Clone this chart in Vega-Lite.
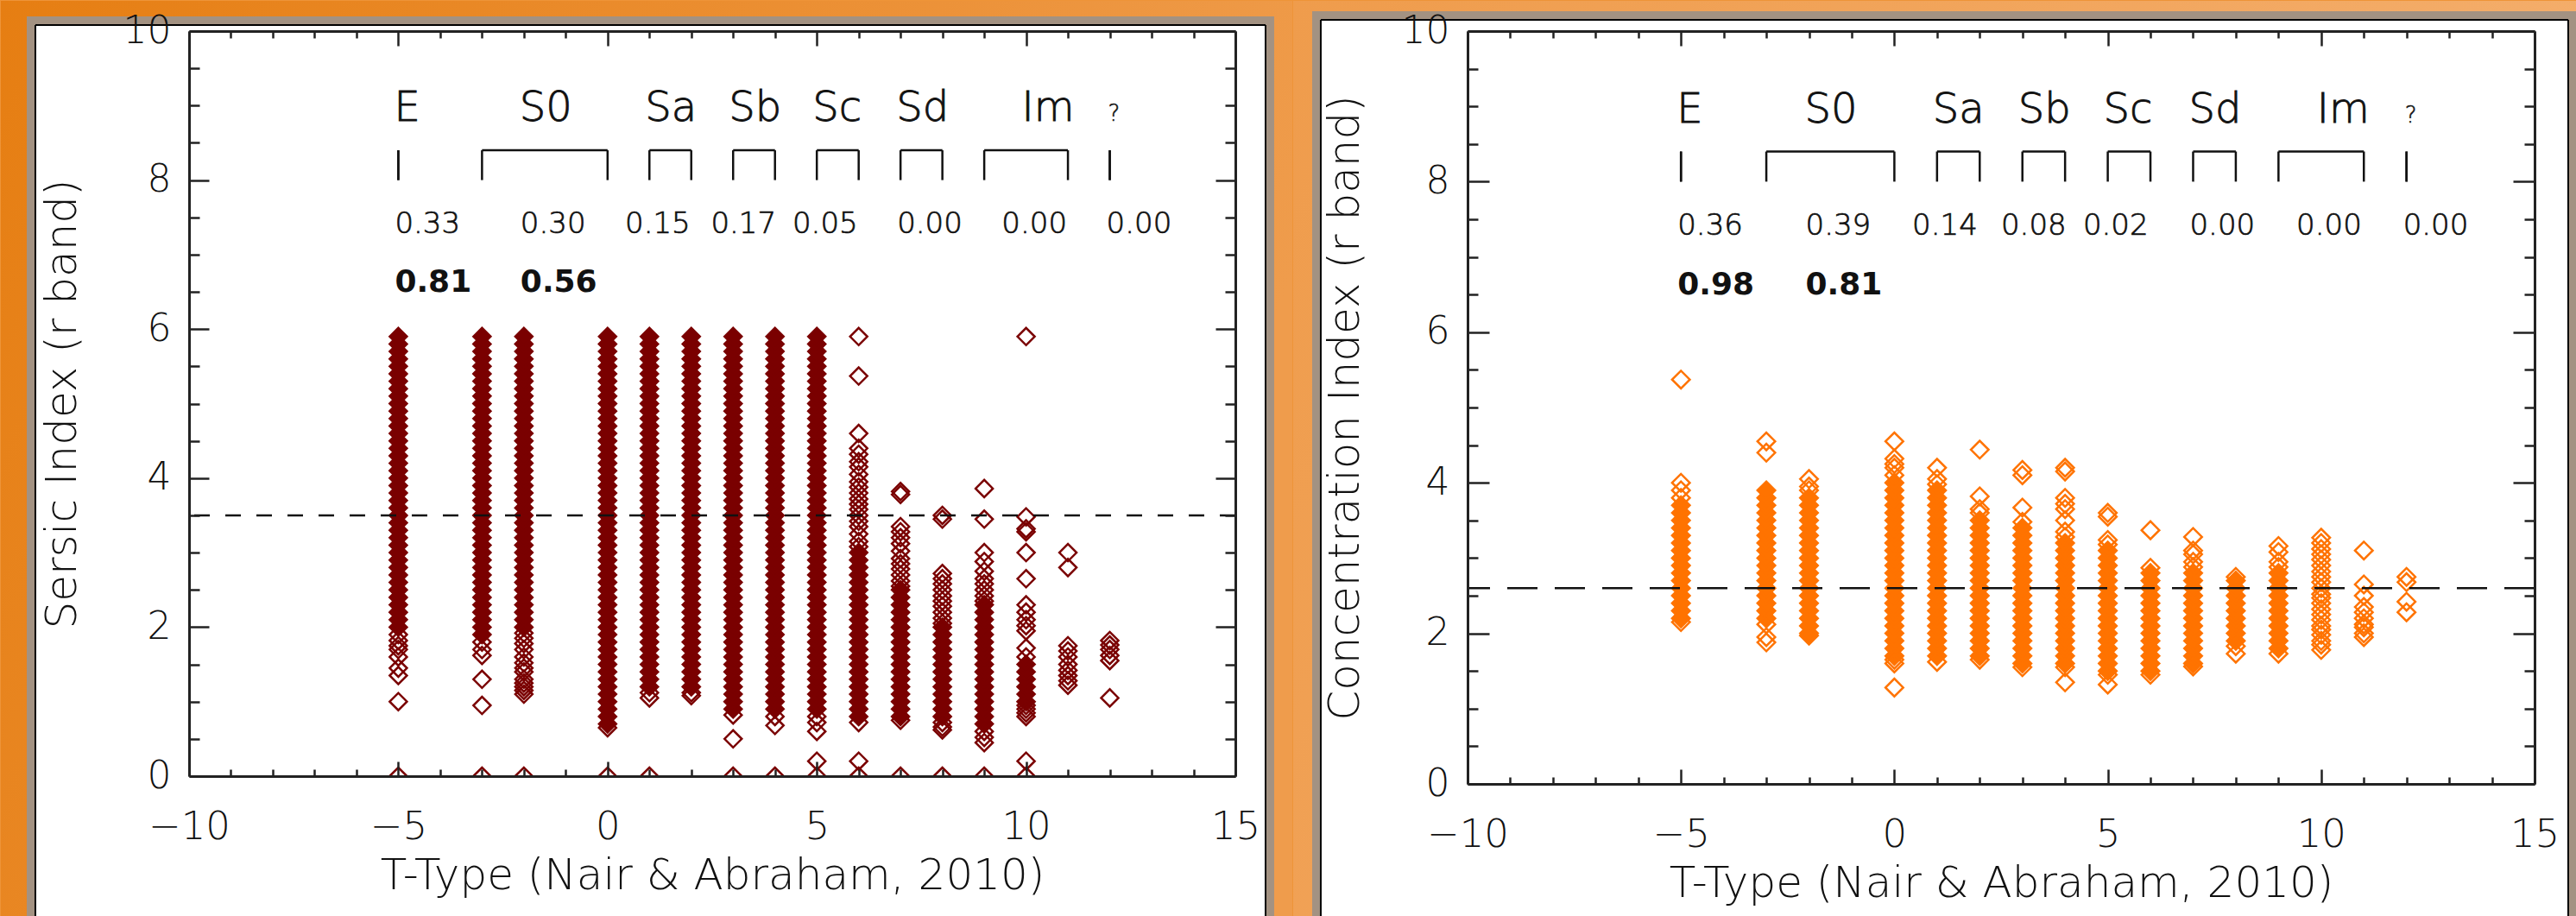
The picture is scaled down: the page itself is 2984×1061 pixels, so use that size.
{
"$schema": "https://vega.github.io/schema/vega-lite/v6.json",
"background": "#EE9438",
"padding": {"left": 0, "top": 0, "right": 0, "bottom": 0},
"autosize": {"type": "pad"},
"columns": 2,
"spacing": 0,
"align": "none",
"bounds": "full",
"config": {
  "view": {"stroke": null},
  "text": {"font": "DejaVu Sans", "color": "#111111", "fontWeight": 300, "stroke": "#111111", "strokeWidth": 0.9},
  "axis": {"domainColor": "#222222", "domainWidth": 3, "tickColor": "#222222", "tickWidth": 2.5, "labelColor": "#111111", "labelFont": "DejaVu Sans", "labelFontWeight": 300, "titleFont": "DejaVu Sans", "titleColor": "#111111", "titleFontWeight": 300, "grid": false, "labelOverlap": false, "labelFlush": false, "labelBound": false}
},
"datasets": {
"sc": [
{"t":-5,"v":2},{"t":-5,"v":2.1},{"t":-5,"v":2.2},{"t":-5,"v":2.3},{"t":-5,"v":2.4},{"t":-5,"v":2.5},{"t":-5,"v":2.6},{"t":-5,"v":2.7},{"t":-5,"v":2.8},{"t":-5,"v":2.9},{"t":-5,"v":3},{"t":-5,"v":3.1},{"t":-5,"v":3.2},{"t":-5,"v":3.3},{"t":-5,"v":3.4},{"t":-5,"v":3.5},{"t":-5,"v":3.6},{"t":-5,"v":3.7},{"t":-5,"v":3.8},{"t":-5,"v":3.9},{"t":-5,"v":4},{"t":-5,"v":4.1},{"t":-5,"v":4.2},{"t":-5,"v":4.3},{"t":-5,"v":4.4},{"t":-5,"v":4.5},{"t":-5,"v":4.6},{"t":-5,"v":4.7},{"t":-5,"v":4.8},{"t":-5,"v":4.9},{"t":-5,"v":5},{"t":-5,"v":5.1},{"t":-5,"v":5.2},{"t":-5,"v":5.3},{"t":-5,"v":5.4},{"t":-5,"v":5.5},{"t":-5,"v":5.6},{"t":-5,"v":5.7},{"t":-5,"v":5.8},{"t":-5,"v":5.9},
{"t":-3,"v":1.9},{"t":-3,"v":2},{"t":-3,"v":2.1},{"t":-3,"v":2.2},{"t":-3,"v":2.3},{"t":-3,"v":2.4},{"t":-3,"v":2.5},{"t":-3,"v":2.6},{"t":-3,"v":2.7},{"t":-3,"v":2.8},{"t":-3,"v":2.9},{"t":-3,"v":3},{"t":-3,"v":3.1},{"t":-3,"v":3.2},{"t":-3,"v":3.3},{"t":-3,"v":3.4},{"t":-3,"v":3.5},{"t":-3,"v":3.6},{"t":-3,"v":3.7},{"t":-3,"v":3.8},{"t":-3,"v":3.9},{"t":-3,"v":4},{"t":-3,"v":4.1},{"t":-3,"v":4.2},{"t":-3,"v":4.3},{"t":-3,"v":4.4},{"t":-3,"v":4.5},{"t":-3,"v":4.6},{"t":-3,"v":4.7},{"t":-3,"v":4.8},{"t":-3,"v":4.9},{"t":-3,"v":5},{"t":-3,"v":5.1},{"t":-3,"v":5.2},{"t":-3,"v":5.3},{"t":-3,"v":5.4},{"t":-3,"v":5.5},{"t":-3,"v":5.6},{"t":-3,"v":5.7},{"t":-3,"v":5.8},{"t":-3,"v":5.9},
{"t":-2,"v":2},{"t":-2,"v":2.1},{"t":-2,"v":2.2},{"t":-2,"v":2.3},{"t":-2,"v":2.4},{"t":-2,"v":2.5},{"t":-2,"v":2.6},{"t":-2,"v":2.7},{"t":-2,"v":2.8},{"t":-2,"v":2.9},{"t":-2,"v":3},{"t":-2,"v":3.1},{"t":-2,"v":3.2},{"t":-2,"v":3.3},{"t":-2,"v":3.4},{"t":-2,"v":3.5},{"t":-2,"v":3.6},{"t":-2,"v":3.7},{"t":-2,"v":3.8},{"t":-2,"v":3.9},{"t":-2,"v":4},{"t":-2,"v":4.1},{"t":-2,"v":4.2},{"t":-2,"v":4.3},{"t":-2,"v":4.4},{"t":-2,"v":4.5},{"t":-2,"v":4.6},{"t":-2,"v":4.7},{"t":-2,"v":4.8},{"t":-2,"v":4.9},{"t":-2,"v":5},{"t":-2,"v":5.1},{"t":-2,"v":5.2},{"t":-2,"v":5.3},{"t":-2,"v":5.4},{"t":-2,"v":5.5},{"t":-2,"v":5.6},{"t":-2,"v":5.7},{"t":-2,"v":5.8},{"t":-2,"v":5.9},
{"t":0,"v":0.7},{"t":0,"v":0.8},{"t":0,"v":0.9},{"t":0,"v":1},{"t":0,"v":1.1},{"t":0,"v":1.2},{"t":0,"v":1.3},{"t":0,"v":1.4},{"t":0,"v":1.5},{"t":0,"v":1.6},{"t":0,"v":1.7},{"t":0,"v":1.8},{"t":0,"v":1.9},{"t":0,"v":2},{"t":0,"v":2.1},{"t":0,"v":2.2},{"t":0,"v":2.3},{"t":0,"v":2.4},{"t":0,"v":2.5},{"t":0,"v":2.6},{"t":0,"v":2.7},{"t":0,"v":2.8},{"t":0,"v":2.9},{"t":0,"v":3},{"t":0,"v":3.1},{"t":0,"v":3.2},{"t":0,"v":3.3},{"t":0,"v":3.4},{"t":0,"v":3.5},{"t":0,"v":3.6},{"t":0,"v":3.7},{"t":0,"v":3.8},{"t":0,"v":3.9},{"t":0,"v":4},{"t":0,"v":4.1},{"t":0,"v":4.2},{"t":0,"v":4.3},{"t":0,"v":4.4},{"t":0,"v":4.5},{"t":0,"v":4.6},{"t":0,"v":4.7},{"t":0,"v":4.8},{"t":0,"v":4.9},{"t":0,"v":5},{"t":0,"v":5.1},{"t":0,"v":5.2},{"t":0,"v":5.3},{"t":0,"v":5.4},{"t":0,"v":5.5},{"t":0,"v":5.6},{"t":0,"v":5.7},{"t":0,"v":5.8},{"t":0,"v":5.9},
{"t":1,"v":1.2},{"t":1,"v":1.3},{"t":1,"v":1.4},{"t":1,"v":1.5},{"t":1,"v":1.6},{"t":1,"v":1.7},{"t":1,"v":1.8},{"t":1,"v":1.9},{"t":1,"v":2},{"t":1,"v":2.1},{"t":1,"v":2.2},{"t":1,"v":2.3},{"t":1,"v":2.4},{"t":1,"v":2.5},{"t":1,"v":2.6},{"t":1,"v":2.7},{"t":1,"v":2.8},{"t":1,"v":2.9},{"t":1,"v":3},{"t":1,"v":3.1},{"t":1,"v":3.2},{"t":1,"v":3.3},{"t":1,"v":3.4},{"t":1,"v":3.5},{"t":1,"v":3.6},{"t":1,"v":3.7},{"t":1,"v":3.8},{"t":1,"v":3.9},{"t":1,"v":4},{"t":1,"v":4.1},{"t":1,"v":4.2},{"t":1,"v":4.3},{"t":1,"v":4.4},{"t":1,"v":4.5},{"t":1,"v":4.6},{"t":1,"v":4.7},{"t":1,"v":4.8},{"t":1,"v":4.9},{"t":1,"v":5},{"t":1,"v":5.1},{"t":1,"v":5.2},{"t":1,"v":5.3},{"t":1,"v":5.4},{"t":1,"v":5.5},{"t":1,"v":5.6},{"t":1,"v":5.7},{"t":1,"v":5.8},{"t":1,"v":5.9},
{"t":2,"v":1.2},{"t":2,"v":1.3},{"t":2,"v":1.4},{"t":2,"v":1.5},{"t":2,"v":1.6},{"t":2,"v":1.7},{"t":2,"v":1.8},{"t":2,"v":1.9},{"t":2,"v":2},{"t":2,"v":2.1},{"t":2,"v":2.2},{"t":2,"v":2.3},{"t":2,"v":2.4},{"t":2,"v":2.5},{"t":2,"v":2.6},{"t":2,"v":2.7},{"t":2,"v":2.8},{"t":2,"v":2.9},{"t":2,"v":3},{"t":2,"v":3.1},{"t":2,"v":3.2},{"t":2,"v":3.3},{"t":2,"v":3.4},{"t":2,"v":3.5},{"t":2,"v":3.6},{"t":2,"v":3.7},{"t":2,"v":3.8},{"t":2,"v":3.9},{"t":2,"v":4},{"t":2,"v":4.1},{"t":2,"v":4.2},{"t":2,"v":4.3},{"t":2,"v":4.4},{"t":2,"v":4.5},{"t":2,"v":4.6},{"t":2,"v":4.7},{"t":2,"v":4.8},{"t":2,"v":4.9},{"t":2,"v":5},{"t":2,"v":5.1},{"t":2,"v":5.2},{"t":2,"v":5.3},{"t":2,"v":5.4},{"t":2,"v":5.5},{"t":2,"v":5.6},{"t":2,"v":5.7},{"t":2,"v":5.8},{"t":2,"v":5.9},
{"t":3,"v":0.9},{"t":3,"v":1},{"t":3,"v":1.1},{"t":3,"v":1.2},{"t":3,"v":1.3},{"t":3,"v":1.4},{"t":3,"v":1.5},{"t":3,"v":1.6},{"t":3,"v":1.7},{"t":3,"v":1.8},{"t":3,"v":1.9},{"t":3,"v":2},{"t":3,"v":2.1},{"t":3,"v":2.2},{"t":3,"v":2.3},{"t":3,"v":2.4},{"t":3,"v":2.5},{"t":3,"v":2.6},{"t":3,"v":2.7},{"t":3,"v":2.8},{"t":3,"v":2.9},{"t":3,"v":3},{"t":3,"v":3.1},{"t":3,"v":3.2},{"t":3,"v":3.3},{"t":3,"v":3.4},{"t":3,"v":3.5},{"t":3,"v":3.6},{"t":3,"v":3.7},{"t":3,"v":3.8},{"t":3,"v":3.9},{"t":3,"v":4},{"t":3,"v":4.1},{"t":3,"v":4.2},{"t":3,"v":4.3},{"t":3,"v":4.4},{"t":3,"v":4.5},{"t":3,"v":4.6},{"t":3,"v":4.7},{"t":3,"v":4.8},{"t":3,"v":4.9},{"t":3,"v":5},{"t":3,"v":5.1},{"t":3,"v":5.2},{"t":3,"v":5.3},{"t":3,"v":5.4},{"t":3,"v":5.5},{"t":3,"v":5.6},{"t":3,"v":5.7},{"t":3,"v":5.8},{"t":3,"v":5.9},
{"t":4,"v":0.9},{"t":4,"v":1},{"t":4,"v":1.1},{"t":4,"v":1.2},{"t":4,"v":1.3},{"t":4,"v":1.4},{"t":4,"v":1.5},{"t":4,"v":1.6},{"t":4,"v":1.7},{"t":4,"v":1.8},{"t":4,"v":1.9},{"t":4,"v":2},{"t":4,"v":2.1},{"t":4,"v":2.2},{"t":4,"v":2.3},{"t":4,"v":2.4},{"t":4,"v":2.5},{"t":4,"v":2.6},{"t":4,"v":2.7},{"t":4,"v":2.8},{"t":4,"v":2.9},{"t":4,"v":3},{"t":4,"v":3.1},{"t":4,"v":3.2},{"t":4,"v":3.3},{"t":4,"v":3.4},{"t":4,"v":3.5},{"t":4,"v":3.6},{"t":4,"v":3.7},{"t":4,"v":3.8},{"t":4,"v":3.9},{"t":4,"v":4},{"t":4,"v":4.1},{"t":4,"v":4.2},{"t":4,"v":4.3},{"t":4,"v":4.4},{"t":4,"v":4.5},{"t":4,"v":4.6},{"t":4,"v":4.7},{"t":4,"v":4.8},{"t":4,"v":4.9},{"t":4,"v":5},{"t":4,"v":5.1},{"t":4,"v":5.2},{"t":4,"v":5.3},{"t":4,"v":5.4},{"t":4,"v":5.5},{"t":4,"v":5.6},{"t":4,"v":5.7},{"t":4,"v":5.8},{"t":4,"v":5.9},
{"t":5,"v":0.9},{"t":5,"v":1},{"t":5,"v":1.1},{"t":5,"v":1.2},{"t":5,"v":1.3},{"t":5,"v":1.4},{"t":5,"v":1.5},{"t":5,"v":1.6},{"t":5,"v":1.7},{"t":5,"v":1.8},{"t":5,"v":1.9},{"t":5,"v":2},{"t":5,"v":2.1},{"t":5,"v":2.2},{"t":5,"v":2.3},{"t":5,"v":2.4},{"t":5,"v":2.5},{"t":5,"v":2.6},{"t":5,"v":2.7},{"t":5,"v":2.8},{"t":5,"v":2.9},{"t":5,"v":3},{"t":5,"v":3.1},{"t":5,"v":3.2},{"t":5,"v":3.3},{"t":5,"v":3.4},{"t":5,"v":3.5},{"t":5,"v":3.6},{"t":5,"v":3.7},{"t":5,"v":3.8},{"t":5,"v":3.9},{"t":5,"v":4},{"t":5,"v":4.1},{"t":5,"v":4.2},{"t":5,"v":4.3},{"t":5,"v":4.4},{"t":5,"v":4.5},{"t":5,"v":4.6},{"t":5,"v":4.7},{"t":5,"v":4.8},{"t":5,"v":4.9},{"t":5,"v":5},{"t":5,"v":5.1},{"t":5,"v":5.2},{"t":5,"v":5.3},{"t":5,"v":5.4},{"t":5,"v":5.5},{"t":5,"v":5.6},{"t":5,"v":5.7},{"t":5,"v":5.8},{"t":5,"v":5.9},
{"t":6,"v":0.8},{"t":6,"v":0.9},{"t":6,"v":1},{"t":6,"v":1.1},{"t":6,"v":1.2},{"t":6,"v":1.3},{"t":6,"v":1.4},{"t":6,"v":1.5},{"t":6,"v":1.6},{"t":6,"v":1.7},{"t":6,"v":1.8},{"t":6,"v":1.9},{"t":6,"v":2},{"t":6,"v":2.1},{"t":6,"v":2.2},{"t":6,"v":2.3},{"t":6,"v":2.4},{"t":6,"v":2.5},{"t":6,"v":2.6},{"t":6,"v":2.7},{"t":6,"v":2.8},{"t":6,"v":2.9},{"t":6,"v":3},
{"t":7,"v":0.8},{"t":7,"v":0.9},{"t":7,"v":1},{"t":7,"v":1.1},{"t":7,"v":1.2},{"t":7,"v":1.3},{"t":7,"v":1.4},{"t":7,"v":1.5},{"t":7,"v":1.6},{"t":7,"v":1.7},{"t":7,"v":1.8},{"t":7,"v":1.9},{"t":7,"v":2},{"t":7,"v":2.1},{"t":7,"v":2.2},{"t":7,"v":2.3},{"t":7,"v":2.4},{"t":7,"v":2.5},
{"t":8,"v":0.8},{"t":8,"v":0.9},{"t":8,"v":1},{"t":8,"v":1.1},{"t":8,"v":1.2},{"t":8,"v":1.3},{"t":8,"v":1.4},{"t":8,"v":1.5},{"t":8,"v":1.6},{"t":8,"v":1.7},{"t":8,"v":1.8},{"t":8,"v":1.9},{"t":8,"v":2},
{"t":9,"v":0.7},{"t":9,"v":0.8},{"t":9,"v":0.9},{"t":9,"v":1},{"t":9,"v":1.1},{"t":9,"v":1.2},{"t":9,"v":1.3},{"t":9,"v":1.4},{"t":9,"v":1.5},{"t":9,"v":1.6},{"t":9,"v":1.7},{"t":9,"v":1.8},{"t":9,"v":1.9},{"t":9,"v":2},{"t":9,"v":2.1},{"t":9,"v":2.2},{"t":9,"v":2.3},
{"t":10,"v":1},{"t":10,"v":1.1},{"t":10,"v":1.2},{"t":10,"v":1.3},{"t":10,"v":1.4},{"t":10,"v":1.5}
],
"so": [
{"t":-5,"v":1.9},{"t":-5,"v":1.82},{"t":-5,"v":1.75},{"t":-5,"v":1.7},{"t":-5,"v":1.6},{"t":-5,"v":1.45},{"t":-5,"v":1.35},{"t":-5,"v":1},{"t":-5,"v":0},
{"t":-3,"v":1.8},{"t":-3,"v":1.7},{"t":-3,"v":1.62},{"t":-3,"v":1.3},{"t":-3,"v":0.95},{"t":-3,"v":0},
{"t":-2,"v":1.92},{"t":-2,"v":1.85},{"t":-2,"v":1.78},{"t":-2,"v":1.7},{"t":-2,"v":1.6},{"t":-2,"v":1.52},{"t":-2,"v":1.45},{"t":-2,"v":1.4},{"t":-2,"v":1.3},{"t":-2,"v":1.25},{"t":-2,"v":1.2},{"t":-2,"v":1.15},{"t":-2,"v":1.1},{"t":-2,"v":0},
{"t":0,"v":0.65},{"t":0,"v":0},
{"t":1,"v":1.12},{"t":1,"v":1.05},{"t":1,"v":0},
{"t":2,"v":1.12},{"t":2,"v":1.08},
{"t":3,"v":0.82},{"t":3,"v":0.5},{"t":3,"v":0},
{"t":4,"v":0.8},{"t":4,"v":0.68},{"t":4,"v":0},
{"t":5,"v":0.8},{"t":5,"v":0.72},{"t":5,"v":0.6},{"t":5,"v":0.2},{"t":5,"v":0},
{"t":6,"v":5.9},{"t":6,"v":5.37},{"t":6,"v":4.6},{"t":6,"v":4.4},{"t":6,"v":4.32},{"t":6,"v":4.22},{"t":6,"v":4.15},{"t":6,"v":4.05},{"t":6,"v":3.95},{"t":6,"v":3.88},{"t":6,"v":3.8},{"t":6,"v":3.72},{"t":6,"v":3.65},{"t":6,"v":3.58},{"t":6,"v":3.5},{"t":6,"v":3.42},{"t":6,"v":3.35},{"t":6,"v":3.25},{"t":6,"v":3.15},{"t":6,"v":3.08},{"t":6,"v":0.72},{"t":6,"v":0.2},{"t":6,"v":0},
{"t":7,"v":3.82},{"t":7,"v":3.78},{"t":7,"v":3.35},{"t":7,"v":3.28},{"t":7,"v":3.2},{"t":7,"v":3.12},{"t":7,"v":3.02},{"t":7,"v":2.92},{"t":7,"v":2.85},{"t":7,"v":2.78},{"t":7,"v":2.7},{"t":7,"v":2.62},{"t":7,"v":2.55},{"t":7,"v":0.75},{"t":7,"v":0},
{"t":8,"v":3.5},{"t":8,"v":3.45},{"t":8,"v":2.72},{"t":8,"v":2.65},{"t":8,"v":2.58},{"t":8,"v":2.5},{"t":8,"v":2.42},{"t":8,"v":2.35},{"t":8,"v":2.28},{"t":8,"v":2.2},{"t":8,"v":2.12},{"t":8,"v":2.05},{"t":8,"v":0.72},{"t":8,"v":0.66},{"t":8,"v":0.62},{"t":8,"v":0},
{"t":9,"v":3.86},{"t":9,"v":3.45},{"t":9,"v":3},{"t":9,"v":2.88},{"t":9,"v":2.75},{"t":9,"v":2.65},{"t":9,"v":2.58},{"t":9,"v":2.5},{"t":9,"v":2.42},{"t":9,"v":2.35},{"t":9,"v":0.6},{"t":9,"v":0.52},{"t":9,"v":0.45},{"t":9,"v":0},
{"t":10,"v":5.9},{"t":10,"v":3.48},{"t":10,"v":3.32},{"t":10,"v":3.28},{"t":10,"v":3},{"t":10,"v":2.65},{"t":10,"v":2.3},{"t":10,"v":2.2},{"t":10,"v":2.1},{"t":10,"v":2.02},{"t":10,"v":1.95},{"t":10,"v":1.72},{"t":10,"v":1.6},{"t":10,"v":0.95},{"t":10,"v":0.9},{"t":10,"v":0.85},{"t":10,"v":0.8},{"t":10,"v":0.2},{"t":10,"v":0},
{"t":11,"v":3},{"t":11,"v":2.8},{"t":11,"v":1.75},{"t":11,"v":1.68},{"t":11,"v":1.6},{"t":11,"v":1.5},{"t":11,"v":1.42},{"t":11,"v":1.35},{"t":11,"v":1.28},{"t":11,"v":1.22},
{"t":12,"v":1.82},{"t":12,"v":1.76},{"t":12,"v":1.7},{"t":12,"v":1.62},{"t":12,"v":1.55},{"t":12,"v":1.05}
],
"cc": [
{"t":-5,"v":2.2},{"t":-5,"v":2.3},{"t":-5,"v":2.4},{"t":-5,"v":2.5},{"t":-5,"v":2.6},{"t":-5,"v":2.7},{"t":-5,"v":2.8},{"t":-5,"v":2.9},{"t":-5,"v":3},{"t":-5,"v":3.1},{"t":-5,"v":3.2},{"t":-5,"v":3.3},{"t":-5,"v":3.4},{"t":-5,"v":3.5},{"t":-5,"v":3.6},{"t":-5,"v":3.7},
{"t":-3,"v":2.2},{"t":-3,"v":2.3},{"t":-3,"v":2.4},{"t":-3,"v":2.5},{"t":-3,"v":2.6},{"t":-3,"v":2.7},{"t":-3,"v":2.8},{"t":-3,"v":2.9},{"t":-3,"v":3},{"t":-3,"v":3.1},{"t":-3,"v":3.2},{"t":-3,"v":3.3},{"t":-3,"v":3.4},{"t":-3,"v":3.5},{"t":-3,"v":3.6},{"t":-3,"v":3.7},{"t":-3,"v":3.8},{"t":-3,"v":3.9},
{"t":-2,"v":2},{"t":-2,"v":2.1},{"t":-2,"v":2.2},{"t":-2,"v":2.3},{"t":-2,"v":2.4},{"t":-2,"v":2.5},{"t":-2,"v":2.6},{"t":-2,"v":2.7},{"t":-2,"v":2.8},{"t":-2,"v":2.9},{"t":-2,"v":3},{"t":-2,"v":3.1},{"t":-2,"v":3.2},{"t":-2,"v":3.3},{"t":-2,"v":3.4},{"t":-2,"v":3.5},{"t":-2,"v":3.6},{"t":-2,"v":3.7},{"t":-2,"v":3.8},
{"t":0,"v":1.7},{"t":0,"v":1.8},{"t":0,"v":1.9},{"t":0,"v":2},{"t":0,"v":2.1},{"t":0,"v":2.2},{"t":0,"v":2.3},{"t":0,"v":2.4},{"t":0,"v":2.5},{"t":0,"v":2.6},{"t":0,"v":2.7},{"t":0,"v":2.8},{"t":0,"v":2.9},{"t":0,"v":3},{"t":0,"v":3.1},{"t":0,"v":3.2},{"t":0,"v":3.3},{"t":0,"v":3.4},{"t":0,"v":3.5},{"t":0,"v":3.6},{"t":0,"v":3.7},{"t":0,"v":3.8},{"t":0,"v":3.9},{"t":0,"v":4},
{"t":1,"v":1.7},{"t":1,"v":1.8},{"t":1,"v":1.9},{"t":1,"v":2},{"t":1,"v":2.1},{"t":1,"v":2.2},{"t":1,"v":2.3},{"t":1,"v":2.4},{"t":1,"v":2.5},{"t":1,"v":2.6},{"t":1,"v":2.7},{"t":1,"v":2.8},{"t":1,"v":2.9},{"t":1,"v":3},{"t":1,"v":3.1},{"t":1,"v":3.2},{"t":1,"v":3.3},{"t":1,"v":3.4},{"t":1,"v":3.5},{"t":1,"v":3.6},{"t":1,"v":3.7},{"t":1,"v":3.8},{"t":1,"v":3.9},
{"t":2,"v":1.7},{"t":2,"v":1.8},{"t":2,"v":1.9},{"t":2,"v":2},{"t":2,"v":2.1},{"t":2,"v":2.2},{"t":2,"v":2.3},{"t":2,"v":2.4},{"t":2,"v":2.5},{"t":2,"v":2.6},{"t":2,"v":2.7},{"t":2,"v":2.8},{"t":2,"v":2.9},{"t":2,"v":3},{"t":2,"v":3.1},{"t":2,"v":3.2},{"t":2,"v":3.3},{"t":2,"v":3.4},{"t":2,"v":3.5},
{"t":3,"v":1.6},{"t":3,"v":1.7},{"t":3,"v":1.8},{"t":3,"v":1.9},{"t":3,"v":2},{"t":3,"v":2.1},{"t":3,"v":2.2},{"t":3,"v":2.3},{"t":3,"v":2.4},{"t":3,"v":2.5},{"t":3,"v":2.6},{"t":3,"v":2.7},{"t":3,"v":2.8},{"t":3,"v":2.9},{"t":3,"v":3},{"t":3,"v":3.1},{"t":3,"v":3.2},{"t":3,"v":3.3},{"t":3,"v":3.4},
{"t":4,"v":1.6},{"t":4,"v":1.7},{"t":4,"v":1.8},{"t":4,"v":1.9},{"t":4,"v":2},{"t":4,"v":2.1},{"t":4,"v":2.2},{"t":4,"v":2.3},{"t":4,"v":2.4},{"t":4,"v":2.5},{"t":4,"v":2.6},{"t":4,"v":2.7},{"t":4,"v":2.8},{"t":4,"v":2.9},{"t":4,"v":3},{"t":4,"v":3.1},{"t":4,"v":3.2},
{"t":5,"v":1.5},{"t":5,"v":1.6},{"t":5,"v":1.7},{"t":5,"v":1.8},{"t":5,"v":1.9},{"t":5,"v":2},{"t":5,"v":2.1},{"t":5,"v":2.2},{"t":5,"v":2.3},{"t":5,"v":2.4},{"t":5,"v":2.5},{"t":5,"v":2.6},{"t":5,"v":2.7},{"t":5,"v":2.8},{"t":5,"v":2.9},{"t":5,"v":3},{"t":5,"v":3.1},
{"t":6,"v":1.5},{"t":6,"v":1.6},{"t":6,"v":1.7},{"t":6,"v":1.8},{"t":6,"v":1.9},{"t":6,"v":2},{"t":6,"v":2.1},{"t":6,"v":2.2},{"t":6,"v":2.3},{"t":6,"v":2.4},{"t":6,"v":2.5},{"t":6,"v":2.6},{"t":6,"v":2.7},{"t":6,"v":2.8},
{"t":7,"v":1.6},{"t":7,"v":1.7},{"t":7,"v":1.8},{"t":7,"v":1.9},{"t":7,"v":2},{"t":7,"v":2.1},{"t":7,"v":2.2},{"t":7,"v":2.3},{"t":7,"v":2.4},{"t":7,"v":2.5},{"t":7,"v":2.6},{"t":7,"v":2.7},{"t":7,"v":2.8},
{"t":8,"v":1.9},{"t":8,"v":2},{"t":8,"v":2.1},{"t":8,"v":2.2},{"t":8,"v":2.3},{"t":8,"v":2.4},{"t":8,"v":2.5},{"t":8,"v":2.6},{"t":8,"v":2.7},
{"t":9,"v":1.8},{"t":9,"v":1.9},{"t":9,"v":2},{"t":9,"v":2.1},{"t":9,"v":2.2},{"t":9,"v":2.3},{"t":9,"v":2.4},{"t":9,"v":2.5},{"t":9,"v":2.6},{"t":9,"v":2.7},{"t":9,"v":2.8}
],
"co": [
{"t":-5,"v":2.15},{"t":-5,"v":3.8},{"t":-5,"v":3.9},{"t":-5,"v":4},{"t":-5,"v":5.37},
{"t":-3,"v":2.12},{"t":-3,"v":1.95},{"t":-3,"v":1.88},{"t":-3,"v":4.4},{"t":-3,"v":4.55},
{"t":-2,"v":1.97},{"t":-2,"v":3.9},{"t":-2,"v":3.95},{"t":-2,"v":4.05},
{"t":0,"v":1.65},{"t":0,"v":1.6},{"t":0,"v":1.28},{"t":0,"v":4.1},{"t":0,"v":4.2},{"t":0,"v":4.25},{"t":0,"v":4.32},{"t":0,"v":4.55},
{"t":1,"v":1.62},{"t":1,"v":3.98},{"t":1,"v":4.05},{"t":1,"v":4.2},
{"t":2,"v":1.65},{"t":2,"v":3.6},{"t":2,"v":3.65},{"t":2,"v":3.82},{"t":2,"v":4.44},
{"t":3,"v":1.55},{"t":3,"v":3.48},{"t":3,"v":3.67},{"t":3,"v":4.1},{"t":3,"v":4.17},
{"t":4,"v":1.55},{"t":4,"v":1.35},{"t":4,"v":3.28},{"t":4,"v":3.35},{"t":4,"v":3.5},{"t":4,"v":3.65},{"t":4,"v":3.72},{"t":4,"v":3.8},{"t":4,"v":4.15},{"t":4,"v":4.2},
{"t":5,"v":1.45},{"t":5,"v":1.32},{"t":5,"v":3.18},{"t":5,"v":3.24},{"t":5,"v":3.55},{"t":5,"v":3.6},
{"t":6,"v":1.45},{"t":6,"v":2.87},{"t":6,"v":3.37},
{"t":7,"v":1.56},{"t":7,"v":2.88},{"t":7,"v":2.95},{"t":7,"v":3.05},{"t":7,"v":3.1},{"t":7,"v":3.28},
{"t":8,"v":1.83},{"t":8,"v":1.73},{"t":8,"v":2.75},
{"t":9,"v":1.73},{"t":9,"v":2.88},{"t":9,"v":2.95},{"t":9,"v":3.08},{"t":9,"v":3.16},
{"t":10,"v":1.78},{"t":10,"v":1.85},{"t":10,"v":1.9},{"t":10,"v":1.98},{"t":10,"v":2.05},{"t":10,"v":2.1},{"t":10,"v":2.18},{"t":10,"v":2.25},{"t":10,"v":2.32},{"t":10,"v":2.4},{"t":10,"v":2.47},{"t":10,"v":2.52},{"t":10,"v":2.6},{"t":10,"v":2.68},{"t":10,"v":2.75},{"t":10,"v":2.82},{"t":10,"v":2.9},{"t":10,"v":2.98},{"t":10,"v":3.05},{"t":10,"v":3.12},{"t":10,"v":3.2},{"t":10,"v":3.27},
{"t":11,"v":3.1},{"t":11,"v":2.65},{"t":11,"v":2.5},{"t":11,"v":2.35},{"t":11,"v":2.28},{"t":11,"v":2.2},{"t":11,"v":2.12},{"t":11,"v":2.08},{"t":11,"v":2},{"t":11,"v":1.95},
{"t":12,"v":2.75},{"t":12,"v":2.68},{"t":12,"v":2.42},{"t":12,"v":2.28}
],
"types": [{"t":-5,"s":"E"},{"t":-2,"s":"S0"},{"t":1,"s":"Sa"},{"t":3,"s":"Sb"},{"t":5,"s":"Sc"},{"t":7,"s":"Sd"},{"t":10,"s":"Im"}],
"unk": [{"t":12,"s":"?"}],
"brackets": [{"a":-5,"b":-5},{"a":-3,"b":0},{"a":1,"b":2},{"a":3,"b":4},{"a":5,"b":6},{"a":7,"b":8},{"a":9,"b":11},{"a":12,"b":12}],
"fracS": [{"t":-5,"s":"0.33"},{"t":-2,"s":"0.30"},{"t":0.5,"s":"0.15"},{"t":2.55,"s":"0.17"},{"t":4.5,"s":"0.05"},{"t":7,"s":"0.00"},{"t":9.5,"s":"0.00"},{"t":12,"s":"0.00"}],
"boldS": [{"t":-5,"s":"0.81"},{"t":-2,"s":"0.56"}],
"fracC": [{"t":-5,"s":"0.36"},{"t":-2,"s":"0.39"},{"t":0.5,"s":"0.14"},{"t":2.58,"s":"0.08"},{"t":4.5,"s":"0.02"},{"t":7,"s":"0.00"},{"t":9.5,"s":"0.00"},{"t":12,"s":"0.00"}],
"boldC": [{"t":-5,"s":"0.98"},{"t":-2,"s":"0.81"}]
},
"concat": [
{
"width": 1212, "height": 863,
"layer": [
{"data": {"values": [{}]}, "mark": {"type": "rect", "fill": {"gradient": "linear", "x1": 0, "y1": 0, "x2": 1, "y2": 0.3, "stops": [{"offset": 0, "color": "#E67E12"}, {"offset": 1, "color": "#EF9C4C"}]}},
 "encoding": {"x": {"datum": -14.497, "type": "quantitative", "scale": {"domain": [-10, 15], "nice": false, "zero": false}, "axis": null}, "x2": {"datum": 16.361},
  "y": {"datum": 10.406, "type": "quantitative", "scale": {"domain": [0, 10], "nice": false, "zero": false}, "axis": null}, "y2": {"datum": -1.889}}},
{"data": {"values": [{}]}, "mark": {"type": "rect", "color": "#A39282"},
 "encoding": {"x": {"datum": -13.878, "type": "quantitative", "axis": null}, "x2": {"datum": 15.928},
  "y": {"datum": 10.197, "type": "quantitative", "axis": null}, "y2": {"datum": -1.889}}},
{"data": {"values": [{}]}, "mark": {"type": "rect", "color": "#ffffff"},
 "encoding": {"x": {"datum": -13.672, "type": "quantitative",
   "axis": {"orient": "top", "values": [-10,-9,-8,-7,-6,-5,-4,-3,-2,-1,0,1,2,3,4,5,6,7,8,9,10,11,12,13,14,15], "tickSize": {"condition": {"test": "datum.value % 5 === 0", "value": -17}, "value": -8}, "labels": false, "title": null, "zindex": 1}},
  "x2": {"datum": 15.722},
  "y": {"datum": 10.081, "type": "quantitative",
   "axis": {"orient": "right", "values": [0,0.5,1,1.5,2,2.5,3,3.5,4,4.5,5,5.5,6,6.5,7,7.5,8,8.5,9,9.5,10], "tickSize": {"condition": {"test": "datum.value % 2 === 0", "value": -23}, "value": -12}, "labels": false, "title": null, "zindex": 1}},
  "y2": {"datum": -1.889}}},
{"data": {"values": [{}]}, "mark": {"type": "rule", "color": "#000000", "strokeWidth": 2},
 "encoding": {"x": {"datum": -13.672, "type": "quantitative", "axis": null}, "y": {"datum": 10.081, "type": "quantitative", "axis": null}, "y2": {"datum": -1.889}}},
{"data": {"values": [{}]}, "mark": {"type": "rule", "color": "#000000", "strokeWidth": 2},
 "encoding": {"x": {"datum": -13.672, "type": "quantitative", "axis": null}, "x2": {"datum": 15.722}, "y": {"datum": 10.081, "type": "quantitative", "axis": null}}},
{"data": {"values": [{}]}, "mark": {"type": "rule", "color": "#000000", "strokeWidth": 2},
 "encoding": {"x": {"datum": 15.722, "type": "quantitative", "axis": null}, "y": {"datum": 10.081, "type": "quantitative", "axis": null}, "y2": {"datum": -1.889}}},
{"data": {"name": "sc"}, "mark": {"type": "point", "shape": "diamond", "size": 400, "filled": true, "color": "#7A0000", "stroke": "#7A0000", "strokeWidth": 2.5, "opacity": 1, "clip": true},
 "encoding": {
  "x": {"field": "t", "type": "quantitative", "scale": {"domain": [-10, 15], "nice": false, "zero": false},
   "axis": {"orient": "bottom", "values": [-10,-5,0,5,10,15], "format": "d", "tickSize": -17, "labelPadding": 53, "labelFontSize": 45, "title": "T-Type (Nair & Abraham, 2010)", "titleFontSize": 50, "titlePadding": 9, "zindex": 1,
    "encode": {"labels": {"update": {"stroke": {"value": "#111111"}, "strokeWidth": {"value": 0.9}}}, "title": {"update": {"stroke": {"value": "#111111"}, "strokeWidth": {"value": 0.9}}}}}},
  "y": {"field": "v", "type": "quantitative", "scale": {"domain": [0, 10], "nice": false, "zero": false},
   "axis": {"orient": "left", "values": [0,2,4,6,8,10], "format": "d", "tickSize": -23, "labelPadding": 44, "labelFontSize": 44, "title": "Sersic Index (r band)", "titleFontSize": 50, "titlePadding": 45, "zindex": 1,
    "encode": {"labels": {"update": {"stroke": {"value": "#111111"}, "strokeWidth": {"value": 0.9}}}, "title": {"update": {"stroke": {"value": "#111111"}, "strokeWidth": {"value": 0.9}}}}}}}},
{"data": {"name": "so"}, "mark": {"type": "point", "shape": "diamond", "size": 400, "filled": false, "color": "#7A0000", "strokeWidth": 2.5, "opacity": 1, "clip": true},
 "encoding": {
  "x": {"field": "t", "type": "quantitative", "axis": {"orient": "bottom", "values": [-9,-8,-7,-6,-4,-3,-2,-1,1,2,3,4,6,7,8,9,11,12,13,14], "tickSize": -8, "labels": false, "domain": false, "title": null, "zindex": 1}},
  "y": {"field": "v", "type": "quantitative", "axis": {"orient": "left", "values": [0.5,1,1.5,2.5,3,3.5,4.5,5,5.5,6.5,7,7.5,8.5,9,9.5], "tickSize": -12, "labels": false, "domain": false, "title": null, "zindex": 1}}}},
{"data": {"values": [{}]}, "mark": {"type": "rule", "color": "#111111", "strokeWidth": 2.5, "strokeDash": [18, 18]},
 "encoding": {"y": {"datum": 3.5, "type": "quantitative", "axis": null}}},
{"data": {"name": "types"}, "mark": {"type": "text", "align": "left", "baseline": "alphabetic", "fontSize": 48, "dx": -5},
 "encoding": {"x": {"field": "t", "type": "quantitative", "axis": null}, "y": {"datum": 8.79, "type": "quantitative", "axis": null}, "text": {"field": "s"}}},
{"data": {"name": "unk"}, "mark": {"type": "text", "align": "left", "baseline": "alphabetic", "fontSize": 26, "dx": -2, "strokeWidth": 0.5},
 "encoding": {"x": {"field": "t", "type": "quantitative", "axis": null}, "y": {"datum": 8.79, "type": "quantitative", "axis": null}, "text": {"field": "s"}}},
{"data": {"name": "fracS"}, "mark": {"type": "text", "align": "left", "baseline": "alphabetic", "fontSize": 34, "dx": -4, "strokeWidth": 0.7},
 "encoding": {"x": {"field": "t", "type": "quantitative", "axis": null}, "y": {"datum": 7.29, "type": "quantitative", "axis": null}, "text": {"field": "s"}}},
{"data": {"name": "boldS"}, "mark": {"type": "text", "align": "left", "baseline": "alphabetic", "fontSize": 36, "fontWeight": "bold", "dx": -4, "strokeWidth": 0},
 "encoding": {"x": {"field": "t", "type": "quantitative", "axis": null}, "y": {"datum": 6.5, "type": "quantitative", "axis": null}, "text": {"field": "s"}}},
{"data": {"name": "brackets"}, "mark": {"type": "rule", "color": "#111111", "strokeWidth": 2.5},
 "encoding": {"x": {"field": "a", "type": "quantitative", "axis": null}, "x2": {"field": "b"}, "y": {"datum": 8.4, "type": "quantitative", "axis": null}}},
{"data": {"name": "brackets"}, "mark": {"type": "rule", "color": "#111111", "strokeWidth": 2.5},
 "encoding": {"x": {"field": "a", "type": "quantitative", "axis": null}, "y": {"datum": 8.0, "type": "quantitative", "axis": null}, "y2": {"datum": 8.4}}},
{"data": {"name": "brackets"}, "mark": {"type": "rule", "color": "#111111", "strokeWidth": 2.5},
 "encoding": {"x": {"field": "b", "type": "quantitative", "axis": null}, "y": {"datum": 8.0, "type": "quantitative", "axis": null}, "y2": {"datum": 8.4}}}
]
},
{
"width": 1236, "height": 872,
"layer": [
{"data": {"values": [{}]}, "mark": {"type": "rect", "fill": {"gradient": "linear", "x1": 0, "y1": 0, "x2": 1, "y2": 0.3, "stops": [{"offset": 0, "color": "#EF9C4C"}, {"offset": 1, "color": "#F4AE6C"}]}},
 "encoding": {"x": {"datum": -14.086, "type": "quantitative", "scale": {"domain": [-10, 15], "nice": false, "zero": false}, "axis": null}, "x2": {"datum": 16.011},
  "y": {"datum": 10.401, "type": "quantitative", "scale": {"domain": [0, 10], "nice": false, "zero": false}, "axis": null}, "y2": {"datum": -1.766}}},
{"data": {"values": [{}]}, "mark": {"type": "rect", "color": "#A39282"},
 "encoding": {"x": {"datum": -13.641, "type": "quantitative", "axis": null}, "x2": {"datum": 15.991},
  "y": {"datum": 10.264, "type": "quantitative", "axis": null}, "y2": {"datum": -1.766}}},
{"data": {"values": [{}]}, "mark": {"type": "rect", "color": "#ffffff"},
 "encoding": {"x": {"datum": -13.439, "type": "quantitative",
   "axis": {"orient": "top", "values": [-10,-9,-8,-7,-6,-5,-4,-3,-2,-1,0,1,2,3,4,5,6,7,8,9,10,11,12,13,14,15], "tickSize": {"condition": {"test": "datum.value % 5 === 0", "value": -17}, "value": -8}, "labels": false, "title": null, "zindex": 1}},
  "x2": {"datum": 15.789},
  "y": {"datum": 10.149, "type": "quantitative",
   "axis": {"orient": "right", "values": [0,0.5,1,1.5,2,2.5,3,3.5,4,4.5,5,5.5,6,6.5,7,7.5,8,8.5,9,9.5,10], "tickSize": {"condition": {"test": "datum.value % 2 === 0", "value": -25}, "value": -12}, "labels": false, "title": null, "zindex": 1}},
  "y2": {"datum": -1.766}}},
{"data": {"values": [{}]}, "mark": {"type": "rule", "color": "#000000", "strokeWidth": 2},
 "encoding": {"x": {"datum": -13.439, "type": "quantitative", "axis": null}, "y": {"datum": 10.149, "type": "quantitative", "axis": null}, "y2": {"datum": -1.766}}},
{"data": {"values": [{}]}, "mark": {"type": "rule", "color": "#000000", "strokeWidth": 2},
 "encoding": {"x": {"datum": -13.439, "type": "quantitative", "axis": null}, "x2": {"datum": 15.789}, "y": {"datum": 10.149, "type": "quantitative", "axis": null}}},
{"data": {"values": [{}]}, "mark": {"type": "rule", "color": "#000000", "strokeWidth": 2},
 "encoding": {"x": {"datum": 15.789, "type": "quantitative", "axis": null}, "y": {"datum": 10.149, "type": "quantitative", "axis": null}, "y2": {"datum": -1.766}}},
{"data": {"name": "cc"}, "mark": {"type": "point", "shape": "diamond", "size": 420, "filled": true, "color": "#FF7300", "stroke": "#FF7300", "strokeWidth": 2.5, "opacity": 1, "clip": true},
 "encoding": {
  "x": {"field": "t", "type": "quantitative", "scale": {"domain": [-10, 15], "nice": false, "zero": false},
   "axis": {"orient": "bottom", "values": [-10,-5,0,5,10,15], "format": "d", "tickSize": -17, "labelPadding": 53, "labelFontSize": 45, "title": "T-Type (Nair & Abraham, 2010)", "titleFontSize": 50, "titlePadding": 9, "zindex": 1,
    "encode": {"labels": {"update": {"stroke": {"value": "#111111"}, "strokeWidth": {"value": 0.9}}}, "title": {"update": {"stroke": {"value": "#111111"}, "strokeWidth": {"value": 0.9}}}}}},
  "y": {"field": "v", "type": "quantitative", "scale": {"domain": [0, 10], "nice": false, "zero": false},
   "axis": {"orient": "left", "values": [0,2,4,6,8,10], "format": "d", "tickSize": -25, "labelPadding": 46, "labelFontSize": 44, "title": "Concentration Index (r band)", "titleFontSize": 50, "titlePadding": 40, "zindex": 1,
    "encode": {"labels": {"update": {"stroke": {"value": "#111111"}, "strokeWidth": {"value": 0.9}}}, "title": {"update": {"stroke": {"value": "#111111"}, "strokeWidth": {"value": 0.9}}}}}}}},
{"data": {"name": "co"}, "mark": {"type": "point", "shape": "diamond", "size": 420, "filled": false, "color": "#FF7300", "strokeWidth": 2.5, "opacity": 1, "clip": true},
 "encoding": {
  "x": {"field": "t", "type": "quantitative", "axis": {"orient": "bottom", "values": [-9,-8,-7,-6,-4,-3,-2,-1,1,2,3,4,6,7,8,9,11,12,13,14], "tickSize": -8, "labels": false, "domain": false, "title": null, "zindex": 1}},
  "y": {"field": "v", "type": "quantitative", "axis": {"orient": "left", "values": [0.5,1,1.5,2.5,3,3.5,4.5,5,5.5,6.5,7,7.5,8.5,9,9.5], "tickSize": -12, "labels": false, "domain": false, "title": null, "zindex": 1}}}},
{"data": {"values": [{}]}, "mark": {"type": "rule", "color": "#111111", "strokeWidth": 2.5, "strokeDash": [35, 20]},
 "encoding": {"y": {"datum": 2.6, "type": "quantitative", "axis": null}}},
{"data": {"name": "types"}, "mark": {"type": "text", "align": "left", "baseline": "alphabetic", "fontSize": 48, "dx": -5},
 "encoding": {"x": {"field": "t", "type": "quantitative", "axis": null}, "y": {"datum": 8.79, "type": "quantitative", "axis": null}, "text": {"field": "s"}}},
{"data": {"name": "unk"}, "mark": {"type": "text", "align": "left", "baseline": "alphabetic", "fontSize": 26, "dx": -2, "strokeWidth": 0.5},
 "encoding": {"x": {"field": "t", "type": "quantitative", "axis": null}, "y": {"datum": 8.79, "type": "quantitative", "axis": null}, "text": {"field": "s"}}},
{"data": {"name": "fracC"}, "mark": {"type": "text", "align": "left", "baseline": "alphabetic", "fontSize": 34, "dx": -4, "strokeWidth": 0.7},
 "encoding": {"x": {"field": "t", "type": "quantitative", "axis": null}, "y": {"datum": 7.29, "type": "quantitative", "axis": null}, "text": {"field": "s"}}},
{"data": {"name": "boldC"}, "mark": {"type": "text", "align": "left", "baseline": "alphabetic", "fontSize": 36, "fontWeight": "bold", "dx": -4, "strokeWidth": 0},
 "encoding": {"x": {"field": "t", "type": "quantitative", "axis": null}, "y": {"datum": 6.5, "type": "quantitative", "axis": null}, "text": {"field": "s"}}},
{"data": {"name": "brackets"}, "mark": {"type": "rule", "color": "#111111", "strokeWidth": 2.5},
 "encoding": {"x": {"field": "a", "type": "quantitative", "axis": null}, "x2": {"field": "b"}, "y": {"datum": 8.4, "type": "quantitative", "axis": null}}},
{"data": {"name": "brackets"}, "mark": {"type": "rule", "color": "#111111", "strokeWidth": 2.5},
 "encoding": {"x": {"field": "a", "type": "quantitative", "axis": null}, "y": {"datum": 8.0, "type": "quantitative", "axis": null}, "y2": {"datum": 8.4}}},
{"data": {"name": "brackets"}, "mark": {"type": "rule", "color": "#111111", "strokeWidth": 2.5},
 "encoding": {"x": {"field": "b", "type": "quantitative", "axis": null}, "y": {"datum": 8.0, "type": "quantitative", "axis": null}, "y2": {"datum": 8.4}}}
]
}
]
}
